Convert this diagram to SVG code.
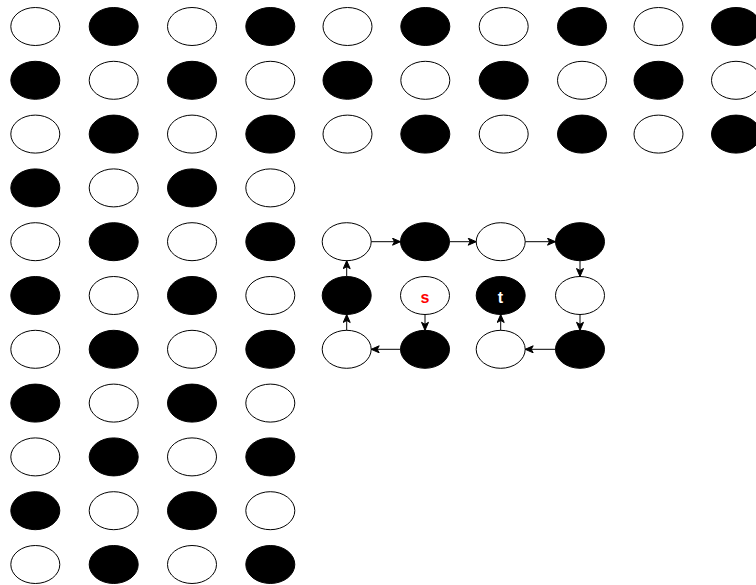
<svg xmlns="http://www.w3.org/2000/svg" width="756" height="585" viewBox="0 0 756 585">
<style>
.w{fill:#fff;stroke:#000;stroke-width:1}
.b{fill:#000;stroke:#000;stroke-width:1}
.e{fill:none;stroke:#000;stroke-width:1}
.lbl{font-family:"Liberation Sans",Arial,sans-serif;font-size:16px;font-weight:bold;text-anchor:middle}
</style>
<defs>
<marker id="a" markerUnits="userSpaceOnUse" markerWidth="10" markerHeight="8" viewBox="0 0 10 8" refX="9" refY="4" orient="auto">
<path d="M1,0.5 L9,4 L1,7.5 L3,4 Z" fill="#000" stroke="#000" stroke-width="1"/>
</marker>
<ellipse id="o" rx="24.5" ry="19"/>
</defs>
<rect width="756" height="585" fill="#fff"/>
<g id="grid">
<g id="r0">
<use href="#o" class="w" x="35.3" y="26.5"/><use href="#o" class="b" x="113.7" y="26.5"/><use href="#o" class="w" x="192" y="26.5"/><use href="#o" class="b" x="270.3" y="26.5"/><use href="#o" class="w" x="347.5" y="26.5"/><use href="#o" class="b" x="425.3" y="26.5"/><use href="#o" class="w" x="503.7" y="26.5"/><use href="#o" class="b" x="582" y="26.5"/><use href="#o" class="w" x="658.5" y="26.5"/><use href="#o" class="b" x="736" y="26.5"/>
</g>
<g id="r1">
<use href="#o" class="b" x="35.3" y="80.3"/><use href="#o" class="w" x="113.7" y="80.3"/><use href="#o" class="b" x="192" y="80.3"/><use href="#o" class="w" x="270.3" y="80.3"/><use href="#o" class="b" x="347.5" y="80.3"/><use href="#o" class="w" x="425.3" y="80.3"/><use href="#o" class="b" x="503.7" y="80.3"/><use href="#o" class="w" x="582" y="80.3"/><use href="#o" class="b" x="658.5" y="80.3"/><use href="#o" class="w" x="736" y="80.3"/>
</g>
<g id="r2">
<use href="#o" class="w" x="35.3" y="134.1"/><use href="#o" class="b" x="113.7" y="134.1"/><use href="#o" class="w" x="192" y="134.1"/><use href="#o" class="b" x="270.3" y="134.1"/><use href="#o" class="w" x="347.5" y="134.1"/><use href="#o" class="b" x="425.3" y="134.1"/><use href="#o" class="w" x="503.7" y="134.1"/><use href="#o" class="b" x="582" y="134.1"/><use href="#o" class="w" x="658.5" y="134.1"/><use href="#o" class="b" x="736" y="134.1"/>
</g>
<g id="r3">
<use href="#o" class="b" x="35.3" y="187.9"/><use href="#o" class="w" x="113.7" y="187.9"/><use href="#o" class="b" x="192" y="187.9"/><use href="#o" class="w" x="270.3" y="187.9"/>
</g>
<g id="r4">
<use href="#o" class="w" x="35.3" y="241.7"/><use href="#o" class="b" x="113.7" y="241.7"/><use href="#o" class="w" x="192" y="241.7"/><use href="#o" class="b" x="270.3" y="241.7"/>
</g>
<g id="r5">
<use href="#o" class="b" x="35.3" y="295.5"/><use href="#o" class="w" x="113.7" y="295.5"/><use href="#o" class="b" x="192" y="295.5"/><use href="#o" class="w" x="270.3" y="295.5"/>
</g>
<g id="r6">
<use href="#o" class="w" x="35.3" y="349.3"/><use href="#o" class="b" x="113.7" y="349.3"/><use href="#o" class="w" x="192" y="349.3"/><use href="#o" class="b" x="270.3" y="349.3"/>
</g>
<g id="r7">
<use href="#o" class="b" x="35.3" y="403.1"/><use href="#o" class="w" x="113.7" y="403.1"/><use href="#o" class="b" x="192" y="403.1"/><use href="#o" class="w" x="270.3" y="403.1"/>
</g>
<g id="r8">
<use href="#o" class="w" x="35.3" y="456.9"/><use href="#o" class="b" x="113.7" y="456.9"/><use href="#o" class="w" x="192" y="456.9"/><use href="#o" class="b" x="270.3" y="456.9"/>
</g>
<g id="r9">
<use href="#o" class="b" x="35.3" y="510.7"/><use href="#o" class="w" x="113.7" y="510.7"/><use href="#o" class="b" x="192" y="510.7"/><use href="#o" class="w" x="270.3" y="510.7"/>
</g>
<g id="r10">
<use href="#o" class="w" x="35.3" y="564.5"/><use href="#o" class="b" x="113.7" y="564.5"/><use href="#o" class="w" x="192" y="564.5"/><use href="#o" class="b" x="270.3" y="564.5"/>
</g>
</g>
<g id="cycle">
<g id="n44"><use href="#o" class="w" x="346.7" y="241.7"/></g>
<g id="n45"><use href="#o" class="b" x="425" y="241.7"/></g>
<g id="n46"><use href="#o" class="w" x="500.7" y="241.7"/></g>
<g id="n47"><use href="#o" class="b" x="580" y="241.7"/></g>
<g id="n54"><use href="#o" class="b" x="346.7" y="295.5"/></g>
<g id="s"><use href="#o" class="w" x="425" y="295.5"/><text class="lbl" x="425" y="302.5" fill="#ff0000">s</text></g>
<g id="t"><use href="#o" class="b" x="500.7" y="295.5"/><text class="lbl" x="500.5" y="302.5" fill="#ffffff">t</text></g>
<g id="n57"><use href="#o" class="w" x="580" y="295.5"/></g>
<g id="n64"><use href="#o" class="w" x="346.7" y="349.3"/></g>
<g id="n65"><use href="#o" class="b" x="425" y="349.3"/></g>
<g id="n66"><use href="#o" class="w" x="500.7" y="349.3"/></g>
<g id="n67"><use href="#o" class="b" x="580" y="349.3"/></g>
</g>
<g id="connectors" class="e">
<line x1="371.2" y1="241.7" x2="400.5" y2="241.7" marker-end="url(#a)"/>
<line x1="449.5" y1="241.7" x2="476.2" y2="241.7" marker-end="url(#a)"/>
<line x1="525.2" y1="241.7" x2="555.5" y2="241.7" marker-end="url(#a)"/>
<line x1="580" y1="260.7" x2="580" y2="276.5" marker-end="url(#a)"/>
<line x1="580" y1="314.5" x2="580" y2="330.3" marker-end="url(#a)"/>
<line x1="555.5" y1="349.3" x2="525.2" y2="349.3" marker-end="url(#a)"/>
<line x1="500.7" y1="330.3" x2="500.7" y2="314.5" marker-end="url(#a)"/>
<line x1="425" y1="314.5" x2="425" y2="330.3" marker-end="url(#a)"/>
<line x1="400.5" y1="349.3" x2="371.2" y2="349.3" marker-end="url(#a)"/>
<line x1="346.7" y1="330.3" x2="346.7" y2="314.5" marker-end="url(#a)"/>
<line x1="346.7" y1="276.5" x2="346.7" y2="260.7" marker-end="url(#a)"/>
</g>
</svg>
